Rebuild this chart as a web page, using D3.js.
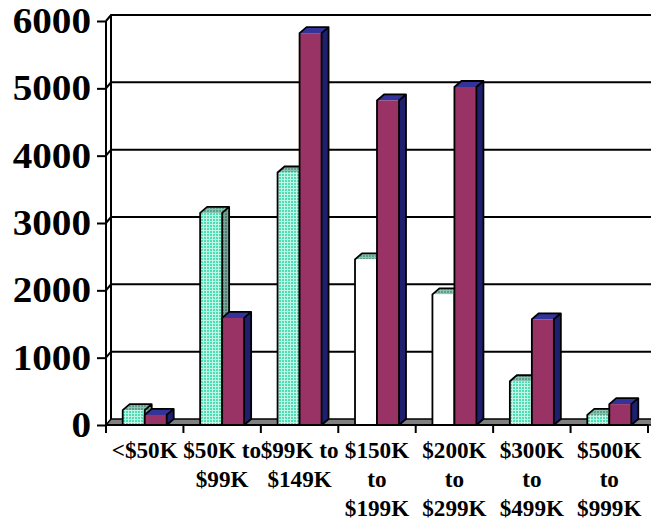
<!DOCTYPE html>
<html>
<head>
<meta charset="utf-8">
<script src="https://cdn.jsdelivr.net/npm/d3@7"></script>
<style>
  body { margin: 0; background: #fff; }
  text { font-family: "Liberation Serif", "Times New Roman", serif; font-weight: bold; fill: #000; }
</style>
</head>
<body>
<div class="chart"></div>
<script>
// data
const categories = ['<$50K', '$50K to $99K', '$99K to $149K', '$150K to $199K', '$200K to $299K', '$300K to $499K', '$500K to $999K'];
const catLabels = [['<$50K'], ['$50K to', '$99K'], ['$99K to', '$149K'], ['$150K', 'to', '$199K'], ['$200K', 'to', '$299K'], ['$300K', 'to', '$499K'], ['$500K', 'to', '$999K']];
const seriesNames = ['A', 'B'];
const seriesA = [220, 3150, 3750, 2460, 1940, 650, 150];
const seriesB = [150, 1590, 5820, 4820, 5020, 1570, 310];
const yTicks = [0, 1000, 2000, 3000, 4000, 5000, 6000];

function drawChart() {
    let width = 651, height = 525;
    let svg = d3.select('.chart').append('svg')
        .attr('width', width)
        .attr('height', height);

    // wall depth offset and bar depth offset
    let wdx = 5, wdy = 6;
    let bdx = 7, bdy = 6;
    let left = 106, right = 648;

    let x = d3.scaleBand().domain(categories).range([left, right]).paddingInner(0).paddingOuter(0);
    let xs = d3.scaleBand().domain(seriesNames).range([0, x.bandwidth()]).paddingInner(0).paddingOuter(0.76);
    // back wall scale, front scale is shifted down by wdy
    let yB = d3.scaleLinear().domain([0, 6000]).range([419, 15]);
    let yF = v => yB(v) + wdy;

    let defs = svg.append('defs');
    function dotPattern(id, bg, fg) {
        let p = defs.append('pattern').attr('id', id)
            .attr('width', 3).attr('height', 3)
            .attr('patternUnits', 'userSpaceOnUse');
        p.append('rect').attr('width', 3).attr('height', 3).attr('fill', bg);
        p.append('rect').attr('width', 2).attr('height', 2).attr('fill', fg);
    }
    dotPattern('tealFront', '#bff7e6', '#4fdcb4');
    dotPattern('tealTop', '#8cc4b2', '#5e9e8a');
    dotPattern('tealSide', '#7aa498', '#4f7f72');

    // floor
    svg.append('polygon')
        .attr('points', [[left, yF(0)], [left + wdx, yB(0)], [width + 10, yB(0)], [width + 10, yF(0)]].map(p => p.join(',')).join(' '))
        .attr('fill', '#808080')
        .attr('stroke', '#000')
        .attr('stroke-width', 1.5);

    // gridlines on back wall plus the short diagonal to the front axis
    let grid = svg.append('g').attr('class', 'grid');
    yTicks.filter(d => d > 0).forEach(t => {
        grid.append('path')
            .attr('d', `M${left},${yF(t)}L${left + wdx},${yB(t)}L${width + 10},${yB(t)}`)
            .attr('fill', 'none')
            .attr('stroke', '#000')
            .attr('stroke-width', 2);
    });

    // left side wall
    svg.append('line')
        .attr('x1', left + wdx).attr('x2', left + wdx)
        .attr('y1', yB(6000)).attr('y2', yB(0))
        .attr('stroke', '#000').attr('stroke-width', 2);

    // y axis (front)
    let yAxis = svg.append('g')
        .attr('class', 'axis axis--y')
        .attr('transform', 'translate(' + left + ',' + wdy + ')')
        .call(d3.axisLeft(yB).tickValues(yTicks).tickSize(9).tickFormat(''));
    yAxis.select('.domain').remove();
    yAxis.selectAll('.tick line').attr('stroke', '#000').attr('stroke-width', 2);
    svg.append('line')
        .attr('x1', left).attr('x2', left)
        .attr('y1', yF(6000)).attr('y2', yF(0))
        .attr('stroke', '#000').attr('stroke-width', 2);

    svg.append('g').selectAll('text')
        .data(yTicks)
        .enter().append('text')
        .attr('transform', d => 'translate(91,' + (yF(d) + 12) + ') scale(1.12,1)')
        .style('text-anchor', 'end')
        .style('font-size', '35px')
        .text(d => d);

    // bars
    let groups = [seriesA, seriesB];
    let faces = [
        {front: 'url(#tealFront)', top: 'url(#tealTop)', side: 'url(#tealSide)'},
        {front: '#993366', top: '#333399', side: '#1f1f70'}
    ];
    let barG = svg.append('g').attr('class', 'bars');
    categories.forEach((c, i) => {
        seriesNames.forEach((s, k) => {
            let v = groups[k][i];
            let x0 = x(c) + xs(s), x1 = x0 + xs.bandwidth();
            let yt = yF(v), yb = yF(0);
            let g = barG.append('g');
            let frontFill = faces[k].front;
            // the renderer left these two fronts unfilled
            if (k === 0 && (i === 3 || i === 4)) frontFill = '#fff';
            g.append('polygon')
                .attr('points', [[x1, yt], [x1 + bdx, yt - bdy], [x1 + bdx, yb - bdy], [x1, yb]].join(' '))
                .attr('fill', faces[k].side);
            g.append('polygon')
                .attr('points', [[x0, yt], [x0 + bdx, yt - bdy], [x1 + bdx, yt - bdy], [x1, yt]].join(' '))
                .attr('fill', faces[k].top);
            g.append('rect')
                .attr('x', x0).attr('y', yt)
                .attr('width', x1 - x0).attr('height', yb - yt)
                .attr('fill', frontFill);
            g.append('path')
                .attr('d', `M${x0},${yb}L${x0},${yt}L${x0 + bdx},${yt - bdy}L${x1 + bdx},${yt - bdy}L${x1 + bdx},${yb - bdy}L${x1},${yb}Z M${x1},${yb}L${x1},${yt}L${x1 + bdx},${yt - bdy}`)
                .attr('fill', 'none')
                .attr('stroke', '#000')
                .attr('stroke-width', 1.8)
                .attr('stroke-linejoin', 'round');
        });
    });

    // x axis (front)
    svg.append('line')
        .attr('x1', left).attr('x2', right)
        .attr('y1', yF(0)).attr('y2', yF(0))
        .attr('stroke', '#000').attr('stroke-width', 2);
    let bounds = categories.map(c => x(c)).concat([right]);
    svg.append('g').selectAll('line')
        .data(bounds)
        .enter().append('line')
        .attr('x1', d => d).attr('x2', d => d)
        .attr('y1', yF(0)).attr('y2', yF(0) + 8)
        .attr('stroke', '#000').attr('stroke-width', 2);

    let labels = svg.append('g').selectAll('text')
        .data(categories)
        .enter().append('text')
        .attr('transform', d => 'translate(' + (x(d) + x.bandwidth() / 2) + ',0) scale(1.03,1)')
        .style('text-anchor', 'middle')
        .style('font-size', '22.5px');
    labels.each(function(d, i) {
        d3.select(this).selectAll('tspan')
            .data(catLabels[i])
            .enter().append('tspan')
            .attr('x', 0)
            .attr('y', (t, j) => 458 + j * 29)
            .text(t => t);
    });
}

drawChart();
</script>
</body>
</html>
